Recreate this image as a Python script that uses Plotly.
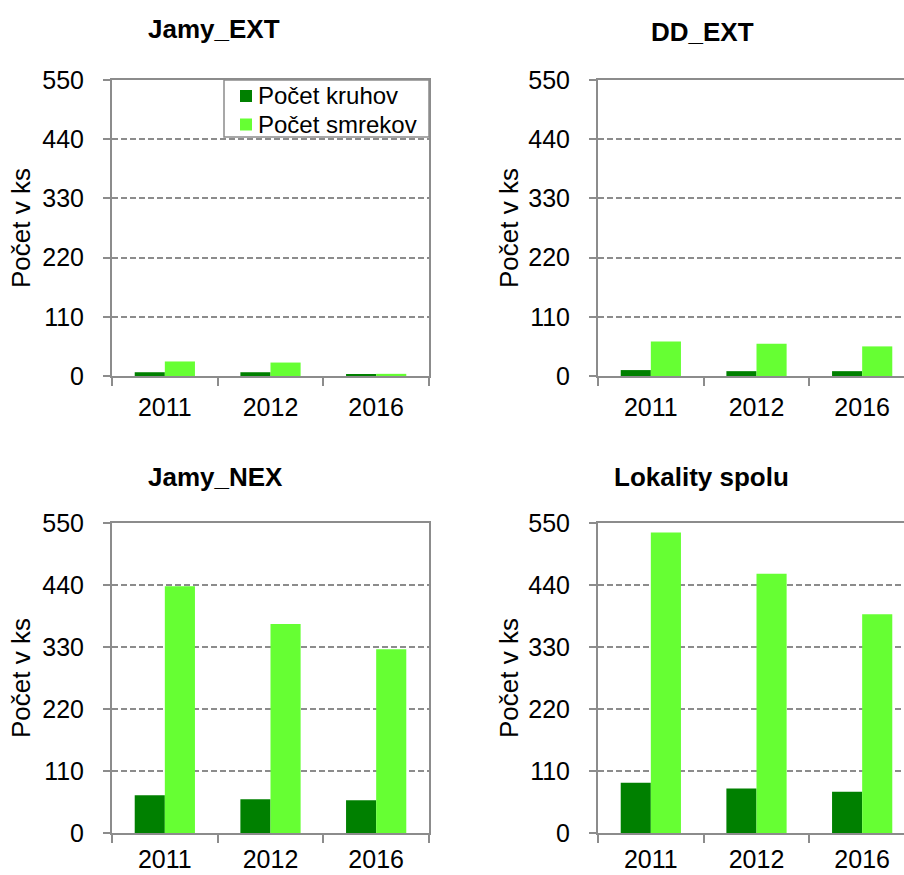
import plotly.graph_objects as go

years = ["2011", "2012", "2016"]
panel_titles = ["Jamy_EXT", "DD_EXT", "Jamy_NEX", "Lokality spolu"]

# Counts per locality: number of circles (kruhy) and spruces (smreky)
kruhy = {
    "Jamy_EXT": [7, 7, 2],
    "DD_EXT": [11, 9, 9],
    "Jamy_NEX": [67, 60, 58],
    "Lokality spolu": [89, 79, 73],
}
smreky = {
    "Jamy_EXT": [27, 25, 4],
    "DD_EXT": [64, 60, 55],
    "Jamy_NEX": [438, 371, 326],
    "Lokality spolu": [533, 460, 388],
}

y_ticks = [0, 110, 220, 330, 440, 550]
series_names = ["Počet kruhov", "Počet smrekov"]
colors = ["#008000", "#66FF33"]

W, H = 904, 875
FONT = "Liberation Sans, Arial, sans-serif"
GRAY = "#8c8c8c"

# panel geometry in pixels: (left, right, top, bottom)
panels = [
    (112, 429, 80, 376),
    (598, 904, 80, 376),
    (112, 429, 523, 833),
    (598, 904, 523, 833),
]
x_label_gap = [8, 8, 3, 3]
cat_px = (429 - 112) / 3.0

fig = go.Figure()

for i, name in enumerate(panel_titles):
    l, r, t, b = panels[i]
    xa = "x" if i == 0 else f"x{i+1}"
    ya = "y" if i == 0 else f"y{i+1}"
    for s, (vals, sname) in enumerate(((kruhy[name], series_names[0]), (smreky[name], series_names[1]))):
        fig.add_trace(go.Bar(
            x=years, y=vals, name=sname, marker_color=colors[s],
            marker_line_width=0, xaxis=xa, yaxis=ya, showlegend=False,
        ))
    right_edge = -0.5 + (r - l) / cat_px
    xkey = "xaxis" if i == 0 else f"xaxis{i+1}"
    ykey = "yaxis" if i == 0 else f"yaxis{i+1}"
    fig.layout[xkey] = dict(
        domain=[l / W, r / W], anchor=ya, type="category", automargin=False,
        range=[-0.5, right_edge], showline=True, linecolor=GRAY, linewidth=2,
        mirror=True, ticks="outside", tickson="boundaries", ticklen=8,
        tickcolor=GRAY, tickwidth=2, showgrid=False,
        tickfont=dict(family=FONT, size=25, color="#000"),
        ticklabelstandoff=x_label_gap[i],
    )
    fig.layout[ykey] = dict(
        domain=[1 - b / H, 1 - t / H], anchor=xa, range=[0, 550], automargin=False,
        tickvals=y_ticks, showline=True, linecolor=GRAY, linewidth=2,
        mirror=(r < W - 10), ticks="outside", ticklen=7, tickcolor=GRAY,
        tickwidth=2, showgrid=True, gridcolor=GRAY, gridwidth=1.5,
        griddash="6px,3px", zeroline=False,
        tickfont=dict(family=FONT, size=25, color="#000"),
        ticklabelstandoff=14,
    )

annotations = []
shapes = []
title_pos = [(214, 29, 26), (702, 32, 26), (215, 477, 26), (701, 477, 26)]
for name, (cx, cy, fs) in zip(panel_titles, title_pos):
    annotations.append(dict(
        text=f"<b>{name}</b>", x=cx / W, y=1 - cy / H, xref="paper", yref="paper",
        xanchor="center", yanchor="middle", showarrow=False,
        font=dict(family=FONT, size=fs, color="#000"),
    ))
for (l, r, t, b), cx in zip(panels, [21, 509, 21, 509]):
    annotations.append(dict(
        text="Počet v ks", x=cx / W, y=1 - (t + b) / 2 / H, xref="paper", yref="paper",
        xanchor="center", yanchor="middle", textangle=-90, showarrow=False,
        font=dict(family=FONT, size=26, color="#000"),
    ))

# legend box for the first panel
lg_l, lg_r, lg_t, lg_b = 224, 429, 80, 137
shapes.append(dict(
    type="rect", xref="paper", yref="paper",
    x0=lg_l / W, x1=lg_r / W, y0=1 - lg_b / H, y1=1 - lg_t / H,
    line=dict(color=GRAY, width=1.5), fillcolor="white", layer="above",
))
for k, (sname, col) in enumerate(zip(series_names, colors)):
    cy = 96 + k * 28.5
    shapes.append(dict(
        type="rect", xref="paper", yref="paper",
        x0=240 / W, x1=252 / W, y0=1 - (cy + 6) / H, y1=1 - (cy - 6) / H,
        line=dict(width=0), fillcolor=col, layer="above",
    ))
    annotations.append(dict(
        text=sname, x=256 / W, y=1 - cy / H, xref="paper", yref="paper",
        xanchor="left", yanchor="middle", showarrow=False,
        font=dict(family=FONT, size=24, color="#000"),
    ))

fig.update_layout(
    width=W, height=H, margin=dict(l=0, r=0, t=0, b=0, autoexpand=False),
    paper_bgcolor="white", plot_bgcolor="white",
    barmode="group", bargap=0.43, bargroupgap=0,
    annotations=annotations, shapes=shapes, showlegend=False,
)

fig.write_html("out.html")
